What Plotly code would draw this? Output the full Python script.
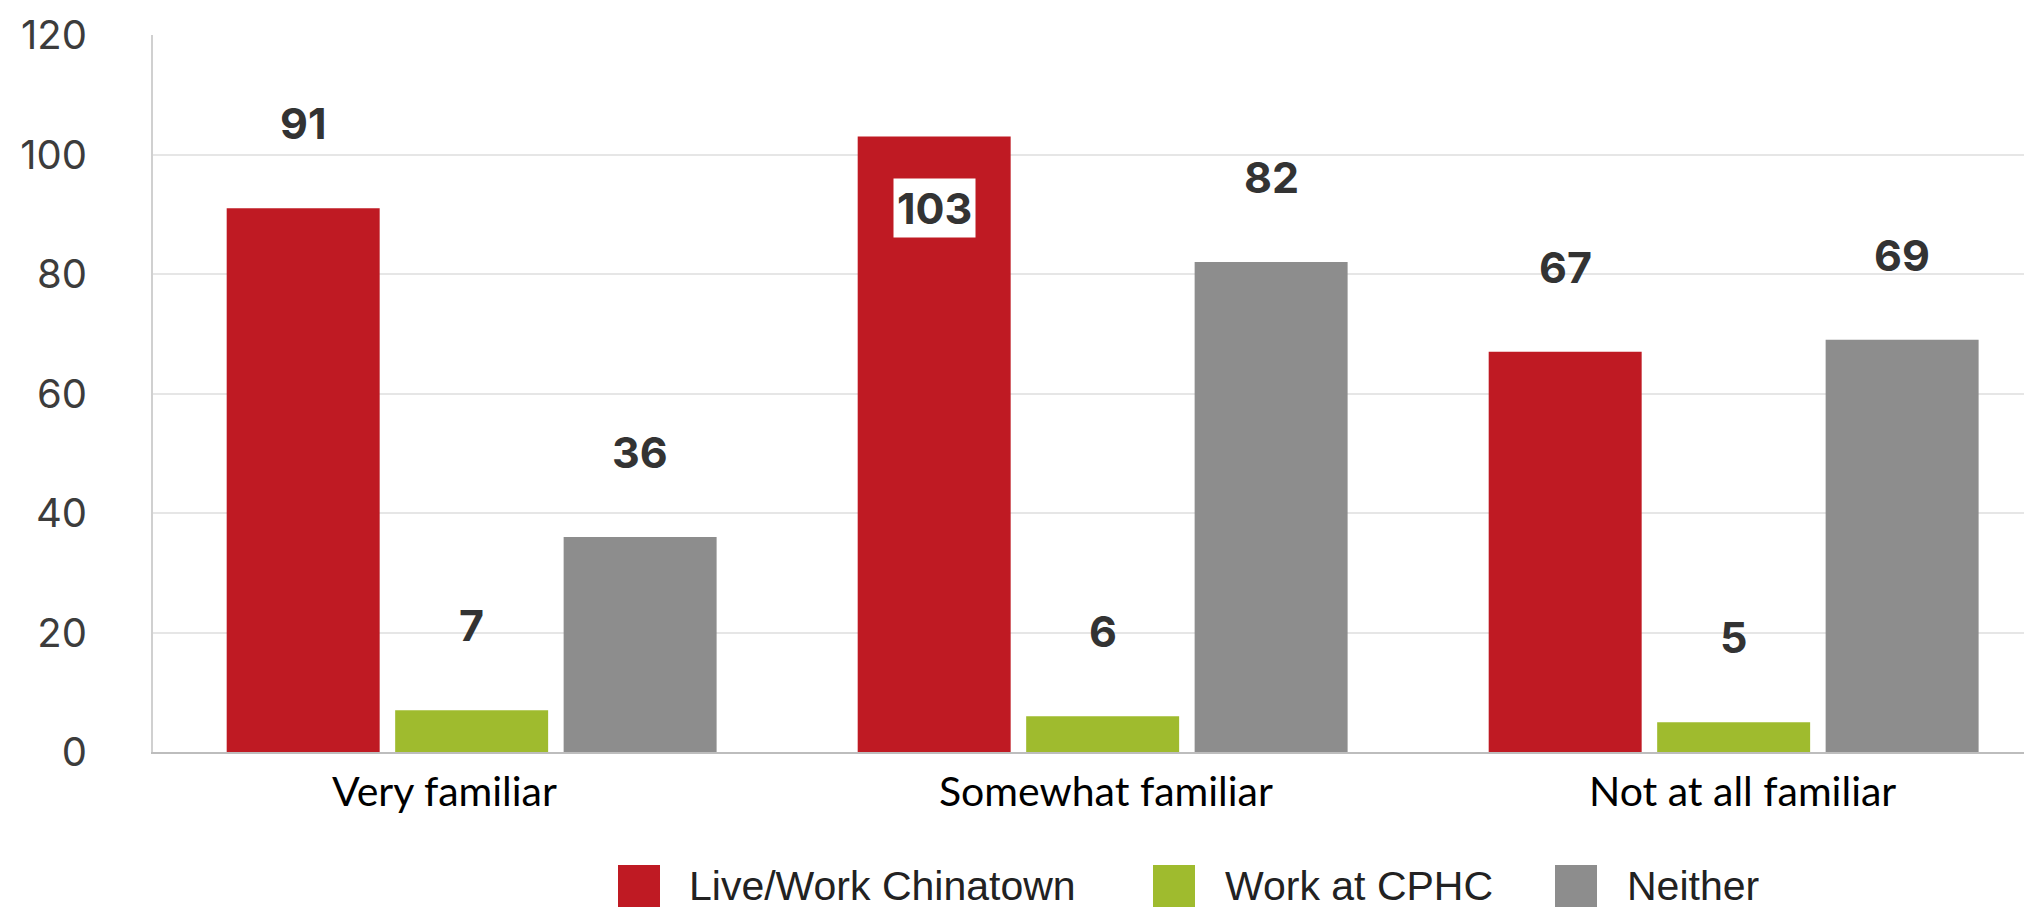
import plotly.graph_objects as go

# ---- data ----
categories = ["Very familiar", "Somewhat familiar", "Not at all familiar"]
series_names = ["Live/Work Chinatown", "Work at CPHC", "Neither"]
live_work_chinatown = [91, 103, 67]
work_at_cphc = [7, 6, 5]
neither = [36, 82, 69]
y_tick_values = [0, 20, 40, 60, 80, 100, 120]

# ---- styles / layout ----
colors = ["#BF1A23", "#9FBB2E", "#8D8D8D"]
OFF = 8  # default page body margin
W, H = 2032 - OFF, 911 - OFF
ML, MR, MT, MB = 153 - OFF, 0, 35 - OFF, 159
PLOT_W = W - ML - MR
PLOT_H = H - MT - MB

series_values = [live_work_chinatown, work_at_cphc, neither]
xpos = list(range(len(categories)))

fig = go.Figure()
for name, vals, col in zip(series_names, series_values, colors):
    fig.add_trace(go.Bar(
        x=xpos, y=vals, name=name, marker=dict(color=col, line=dict(width=0)),
        showlegend=False, hoverinfo="skip",
    ))

# value labels (drawn via data coordinates)
slot_px = 168.5
offsets = [-slot_px, 0, slot_px]
label_font = dict(family="Inter, Roboto, sans-serif", size=43, color="#333333", weight="bold")
for si, vals in enumerate(series_values):
    for ci, v in enumerate(vals):
        inside = v > 100
        fig.add_annotation(
            x=xpos[ci], y=v, xref="x", yref="y", text=str(v), showarrow=False,
            xshift=offsets[si], yshift=(-71 if inside else 85),
            font=label_font, yanchor="middle", xanchor="center",
            bgcolor=("white" if inside else None), borderpad=3,
        )

# category labels (as in the reference, slightly off-centre)
cat_label_xshift = [-27, 3, 9]
for ci, cat in enumerate(categories):
    fig.add_annotation(
        x=xpos[ci], y=0, xref="x", yref="y", text=cat, showarrow=False,
        xshift=cat_label_xshift[ci], yshift=-38, yanchor="middle", xanchor="center",
        font=dict(family="Lato, sans-serif", size=41, color="#000000"),
    )

# custom legend (large squares), page-pixel positions
legend_sq_left = [618, 1153, 1555]
legend_txt_left = [687, 1223, 1625]
legend_cy = 886
sq = 42
for name, col, sx, tx in zip(series_names, colors, legend_sq_left, legend_txt_left):
    ya = (H - MB - (legend_cy - OFF)) / PLOT_H
    fig.add_shape(
        type="rect", xref="paper", yref="paper",
        xsizemode="pixel", ysizemode="pixel",
        xanchor=(sx - OFF - ML) / PLOT_W, yanchor=ya,
        x0=0, x1=sq, y0=-sq / 2, y1=sq / 2,
        fillcolor=col, line=dict(width=0),
    )
    fig.add_annotation(
        xref="paper", yref="paper", x=(tx - OFF - ML) / PLOT_W, y=ya,
        text=name, showarrow=False, xanchor="left", yanchor="middle",
        font=dict(family="Liberation Sans, Arial, sans-serif", size=41, color="#222222"),
    )

fig.update_layout(
    width=W, height=H,
    margin=dict(l=ML, r=MR, t=MT, b=MB, autoexpand=False),
    paper_bgcolor="white", plot_bgcolor="white",
    barmode="group", bargap=0.199, bargroupgap=0.092,
    showlegend=False,
)
fig.update_xaxes(
    range=[-0.505, -0.505 + PLOT_W / 631.0],
    tickvals=xpos, showticklabels=False,
    showline=True, linecolor="#BDBDBD", linewidth=2,
    showgrid=False, zeroline=False, ticks="",
)
fig.update_yaxes(
    range=[0, 120], tickvals=y_tick_values,
    tickfont=dict(family="Inter, Roboto, sans-serif", size=40, color="#3C3C3C"),
    showline=True, linecolor="#D0D0D0", linewidth=2,
    showgrid=True, gridcolor="#E6E6E6", gridwidth=2,
    zeroline=False, ticks="", ticklabelstandoff=56,
)

fig.write_html("out.html")
